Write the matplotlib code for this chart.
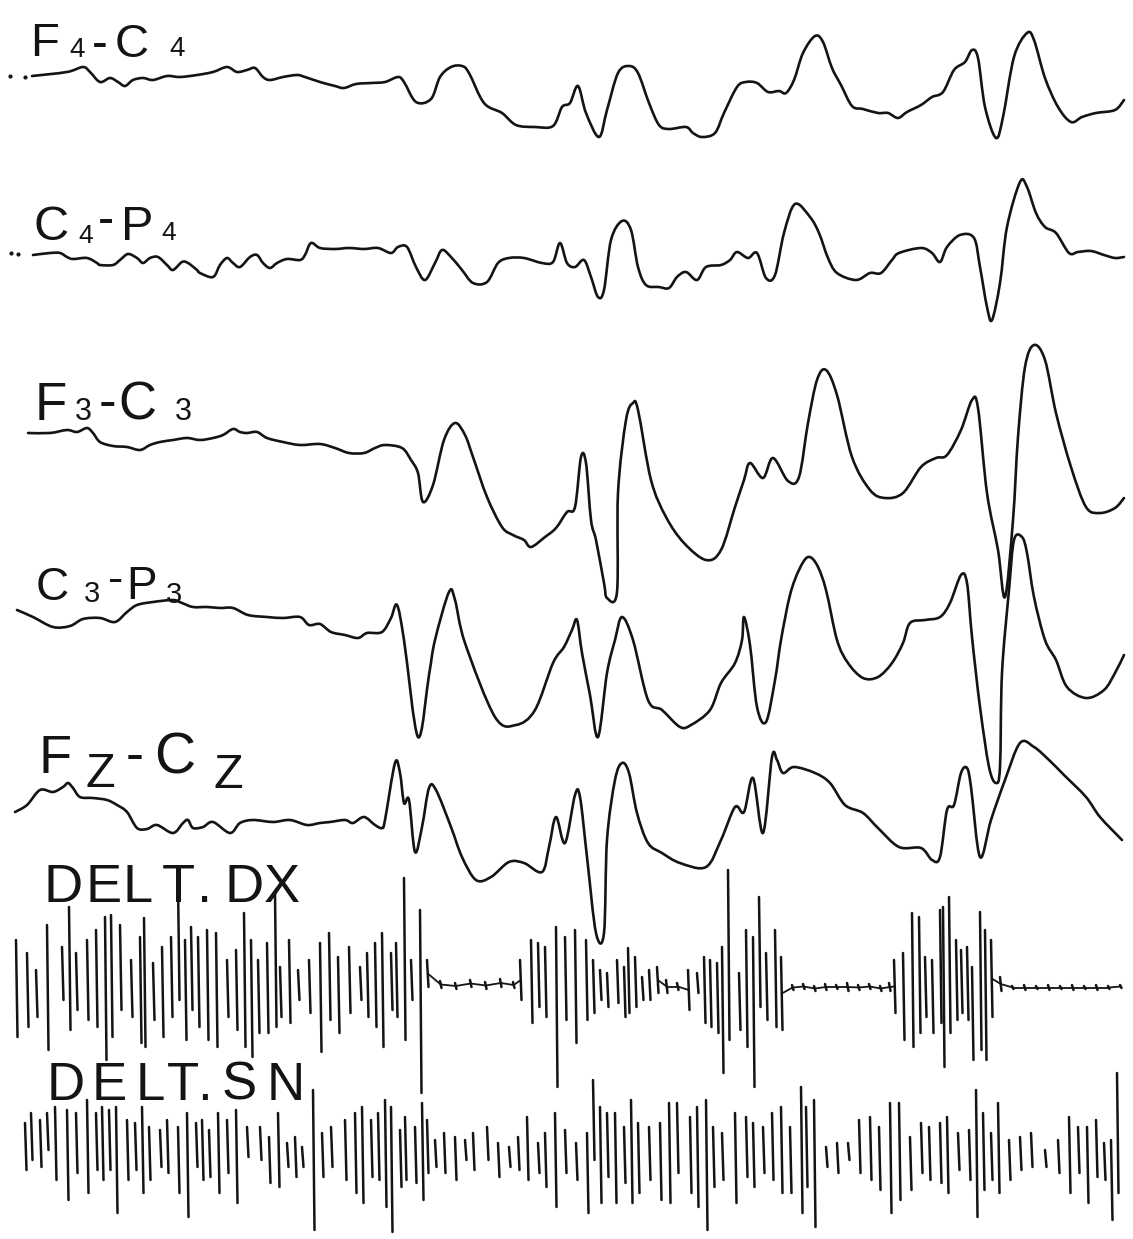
import matplotlib
matplotlib.use("Agg")
import matplotlib.pyplot as plt
import numpy as np
from matplotlib.path import Path
from matplotlib.patches import PathPatch
from matplotlib.collections import LineCollection

# EEG channels: sample position and deflection from the channel baseline
# (negative = upward, EEG convention)
f4c4_t = [32, 67, 83, 90, 100, 110, 118, 125, 133, 143, 153, 167, 180, 197, 213, 227, 237, 247, 255,
          263, 270, 283, 297, 305, 320, 335, 344, 356, 371, 385, 398, 404, 416, 431, 440, 451, 462,
          469, 484, 502, 516, 535, 553, 562, 570, 578, 586, 599, 607, 618, 629, 638, 649, 659, 669,
          686, 693, 702, 715, 724, 737, 746, 757, 768, 779, 786, 794, 803, 815, 823, 832, 841, 852,
          863, 878, 888, 898, 907, 921, 932, 943, 954, 965, 972, 978, 985, 996, 1003, 1014, 1027,
          1034, 1045, 1058, 1071, 1082, 1096, 1115, 1124]
f4c4_v = [1, -3, -8, -3, 7, 3, 7, 11, 5, 3, 5, 1, 2, 0, -3, -8, -3, -5, -7,
          2, 5, 2, 0, 2, 7, 11, 13, 9, 8, 7, 2, 7, 27, 24, 2, -8, -9,
          -2, 28, 38, 50, 52, 51, 32, 28, 11, 38, 62, 35, -2, -9, -2, 28, 50, 54,
          52, 58, 62, 58, 38, 12, 7, 8, 17, 16, 18, 5, -22, -39, -33, -7, 10, 31,
          34, 38, 38, 43, 37, 30, 22, 17, -5, -13, -25, -17, 32, 63, 42, -18, -42,
          -35, 3, 32, 47, 42, 38, 35, 25]

c4p4_t = [33, 50, 60, 67, 73, 87, 97, 100, 113, 120, 128, 137, 143, 150, 158, 167, 173, 182, 188,
          197, 200, 213, 220, 227, 233, 240, 250, 257, 263, 270, 277, 287, 300, 305, 311, 320, 335,
          349, 364, 378, 391, 398, 407, 416, 425, 435, 442, 451, 462, 473, 487, 498, 509, 524, 542,
          553, 560, 567, 575, 584, 591, 598, 604, 611, 622, 631, 638, 646, 659, 669, 677, 686, 697,
          706, 721, 730, 737, 748, 757, 766, 775, 784, 795, 810, 819, 828, 837, 856, 870, 881, 892,
          899, 921, 932, 940, 947, 960, 974, 980, 987, 992, 1000, 1007, 1020, 1027, 1036, 1045,
          1056, 1069, 1078, 1091, 1104, 1115, 1124]
c4p4_v = [0, -2, -2, 2, 4, 3, 8, 10, 10, 5, -1, 3, 8, 3, 2, 10, 15, 7, 8,
          15, 18, 22, 10, 3, 8, 12, 2, 0, 8, 13, 8, 4, 5, 0, -12, -7, -6,
          -7, -6, -7, -2, -8, -8, 12, 25, 8, -5, 2, 15, 28, 27, 8, 3, 3, 8,
          7, -12, 8, 12, 5, 22, 42, 35, -15, -34, -25, 12, 30, 32, 33, 22, 17, 25,
          12, 10, 5, -3, 3, -2, 23, 20, -22, -51, -38, -22, 3, 18, 25, 18, 18, 5,
          -2, -7, -2, 7, -8, -20, -17, 12, 52, 65, 28, -28, -73, -68, -42, -28,
          -22, -2, -3, -4, 0, 3, 2]

f3c3_t = [28, 50, 67, 77, 87, 93, 100, 113, 127, 140, 150, 160, 173, 187, 200, 213, 223, 233, 240,
          247, 257, 267, 283, 300, 320, 335, 349, 364, 375, 385, 402, 411, 418, 423, 433, 444, 455,
          465, 473, 487, 502, 513, 524, 531, 545, 556, 567, 575, 581, 586, 591, 596, 604, 607, 617,
          618, 626, 633, 638, 651, 666, 684, 706, 721, 735, 744, 750, 763, 773, 788, 799, 808, 817,
          826, 837, 852, 870, 885, 903, 921, 936, 947, 961, 972, 978, 987, 998, 1005, 1013, 1018,
          1025, 1034, 1045, 1056, 1071, 1086, 1100, 1115, 1124]
f3c3_v = [-2, -2, -5, -3, -7, -2, 7, 11, 12, 15, 10, 7, 5, 3, 5, 3, 0, -6, -3,
          -2, -3, 3, 7, 10, 9, 13, 18, 18, 13, 10, 13, 25, 38, 67, 50, 5, -12,
          0, 22, 62, 92, 100, 105, 112, 102, 93, 77, 72, 22, 28, 85, 105, 148, 163, 157,
          58, -15, -32, -25, 45, 82, 108, 125, 115, 72, 45, 28, 43, 23, 46, 42, -12, -55,
          -65, -40, 22, 55, 63, 58, 32, 23, 20, -5, -35, -27, 58, 115, 162, 85, 2,
          -68, -90, -75, -22, 32, 72, 78, 73, 63]

c3p3_t = [17, 33, 53, 70, 83, 100, 115, 127, 137, 153, 173, 182, 193, 207, 220, 233, 248, 267, 283,
          300, 309, 320, 331, 345, 358, 367, 382, 391, 397, 404, 418, 429, 435, 449, 455, 465, 495,
          516, 535, 553, 564, 572, 577, 582, 590, 598, 607, 615, 622, 633, 648, 662, 680, 691, 710,
          721, 735, 742, 744, 750, 757, 766, 775, 781, 790, 799, 808, 817, 826, 837, 848, 863, 878,
          892, 903, 910, 925, 940, 950, 961, 967, 972, 980, 989, 996, 1000, 1002, 1009, 1014, 1022,
          1027, 1034, 1045, 1056, 1067, 1086, 1104, 1115, 1124]
c3p3_v = [-5, 2, 12, 11, 4, 3, 7, -3, -10, -13, -15, -12, -8, -8, -7, -7, 0, 2, 3,
          2, 10, 9, 17, 20, 23, 18, 17, 3, -10, 25, 122, 60, 25, -23, -15, 28, 102,
          110, 95, 48, 32, 15, 5, 38, 80, 122, 58, 25, 2, 25, 85, 95, 112, 110, 95,
          68, 48, 25, 2, 30, 92, 107, 65, 25, -20, -45, -58, -50, -25, 25, 48, 63, 62,
          48, 28, 8, 5, 2, -12, -40, -32, 22, 92, 152, 168, 152, 58, -25, -75, -78,
          -62, -18, 25, 45, 72, 83, 75, 58, 40]

fzcz_t = [15, 27, 40, 53, 63, 68, 73, 80, 93, 107, 117, 127, 137, 147, 157, 173, 183, 188, 193,
          203, 213, 230, 240, 253, 273, 290, 307, 320, 330, 345, 353, 364, 375, 382, 385, 395, 400,
          404, 409, 415, 422, 429, 436, 451, 462, 476, 491, 509, 524, 542, 549, 556, 565, 575, 580,
          587, 596, 604, 607, 615, 622, 629, 637, 648, 662, 680, 706, 721, 735, 744, 753, 763, 772,
          777, 783, 794, 815, 830, 845, 863, 878, 899, 921, 932, 940, 947, 954, 961, 967, 971, 980,
          991, 1005, 1020, 1034, 1049, 1064, 1086, 1100, 1122]
fzcz_v = [-8, -15, -30, -28, -33, -37, -32, -23, -22, -20, -15, -8, 8, 9, 5, 13, 3, 0, 8,
          7, 2, 13, 3, 0, 2, 0, 5, 3, 2, 0, 3, -3, 5, 8, 0, -57, -47,
          -17, -20, 32, 7, -32, -30, 7, 37, 60, 57, 42, 43, 52, 27, -3, 23, -25, -23,
          37, 113, 113, 20, -40, -57, -47, -7, 23, 33, 43, 47, 20, -13, -8, -42, 13, -63,
          -60, -47, -53, -47, -37, -15, -7, 8, 27, 28, 40, 37, -10, -15, -47, -52, -33, 37,
          0, -40, -77, -73, -60, -45, -23, -3, 20]

# pen dots before the first two traces start
f4c4_lead_t = [10, 25]
f4c4_lead_v = [1, 2]
c4p4_lead_t = [11, 18]
c4p4_lead_v = [-2, -1]

# EMG: position of each burst stroke with its upper and lower excursion
dx_t = [16, 27, 36, 47, 62, 69, 76, 87, 96, 105, 111, 120, 131, 140, 144, 153, 162, 171, 178, 185,
        191, 198, 207, 216, 227, 236, 244, 251, 258, 267, 275, 280, 289, 298, 309, 320, 329, 338,
        349, 360, 367, 375, 382, 391, 396, 404, 411, 420, 427, 440, 455, 470, 485, 500, 513, 520,
        531, 538, 545, 556, 565, 575, 586, 593, 600, 607, 617, 624, 628, 635, 642, 649, 657, 666,
        677, 688, 697, 704, 710, 717, 722, 728, 739, 746, 753, 759, 766, 775, 781, 792, 803, 814,
        825, 836, 847, 858, 869, 880, 889, 894, 903, 912, 919, 925, 932, 940, 943, 949, 956, 961,
        967, 972, 980, 985, 991, 1000, 1012, 1024, 1036, 1048, 1060, 1072, 1084, 1096, 1108, 1120]
dx_top = [-43, -30, -13, -58, -36, -76, -30, -43, -53, -66, -68, -58, -23, -46, -65, -20, -36, -46, -100, -43,
          -56, -46, -53, -50, -23, -33, -70, -43, -23, -40, -90, -16, -43, -13, -23, -40, -50, -26,
          -36, -16, -30, -40, -50, -30, -40, -105, -23, -73, -23, -2, 0, -3, -1, -4, -1, -23,
          -43, -40, -36, -56, -46, -53, -43, -23, -13, -10, -23, -16, -35, -26, -6, -13, -16, -3,
          0, -13, -10, -26, -23, -20, -36, -113, -10, -53, -46, -86, -30, -53, -26, 2, 1, 3,
          1, 2, 0, 2, 1, 3, 0, -23, -30, -70, -66, -26, -23, -73, -76, -86, -43, -33,
          -36, -16, -71, -53, -43, -6, 3, 2, 3, 2, 3, 2, 3, 2, 3, 2]
dx_bot = [54, 44, 34, 67, 17, 47, 27, 37, 44, 77, 54, 27, 34, 60, 64, 37, 54, 34, 17, 57,
          27, 44, 57, 64, 34, 47, 64, 74, 50, 50, 44, 34, 40, 17, 30, 69, 37, 50,
          30, 17, 34, 44, 64, 27, 34, 57, 17, 110, 4, 5, 6, 4, 6, 4, 5, 17,
          40, 24, 34, 104, 37, 60, 37, 30, 17, 24, 20, 34, 30, 24, 17, 17, 10, 10,
          7, 27, 10, 40, 44, 50, 90, 57, 47, 64, 104, 24, 37, 44, 47, 7, 6, 8,
          7, 6, 8, 7, 6, 8, 8, 30, 57, 64, 50, 34, 50, 40, 84, 50, 37, 30,
          37, 77, 67, 77, 34, 8, 6, 7, 6, 7, 6, 7, 6, 7, 6, 5]

sn_t = [25, 31, 40, 47, 55, 67, 76, 87, 96, 102, 109, 116, 127, 135, 142, 149, 160, 167, 178, 187,
        196, 202, 209, 218, 227, 236, 247, 260, 269, 278, 287, 295, 302, 313, 322, 331, 345, 355,
        362, 371, 378, 385, 391, 400, 405, 415, 422, 427, 435, 444, 455, 465, 473, 487, 498, 509,
        518, 527, 538, 545, 555, 565, 576, 587, 593, 600, 607, 615, 624, 631, 638, 649, 660, 669,
        677, 690, 697, 706, 713, 722, 735, 746, 753, 763, 772, 781, 790, 801, 806, 814, 826, 837,
        848, 859, 870, 879, 890, 899, 910, 921, 929, 940, 947, 958, 969, 976, 983, 991, 998, 1009,
        1020, 1031, 1045, 1058, 1069, 1078, 1087, 1096, 1104, 1111, 1117]
sn_top = [-17, -27, -20, -27, -33, -30, -27, -40, -27, -33, -30, -33, -20, -17, -33, -13, -10, -20, -13, -27,
          -17, -20, -10, -27, -20, -30, -13, -13, -3, -27, 3, -3, 7, -50, -7, -13, -20, -27,
          -33, -20, -27, -40, -33, -10, -23, -13, -37, -20, 0, -7, -3, 0, -7, -13, 3, 7,
          -3, -23, 3, -7, -27, -10, 3, -7, -60, -33, -27, -27, -13, -40, -17, -13, -17, -37,
          -37, -23, -33, -40, -13, -7, -27, -23, -17, -13, -27, -33, -13, -53, -33, -40, 7, 3,
          3, -20, -23, -13, -37, -37, -3, -17, -13, -17, -23, -7, -10, -50, -27, -7, -37, 0,
          -3, -7, 10, 0, -23, -13, -13, -20, 3, 0, -67]
sn_bot = [30, 20, 27, 10, 40, 60, 33, 53, 30, 40, 30, 73, 40, 30, 53, 40, 27, 33, 53, 77,
          27, 40, 37, 53, 33, 63, 17, 20, 43, 47, 27, 37, 27, 90, 37, 27, 40, 53,
          63, 37, 40, 67, 92, 47, 40, 43, 60, 33, 27, 33, 40, 20, 30, 20, 37, 27,
          30, 40, 33, 47, 67, 33, 40, 73, 20, 63, 37, 63, 43, 63, 53, 40, 60, 63,
          33, 53, 67, 90, 47, 40, 63, 37, 47, 33, 40, 53, 53, 73, 47, 87, 27, 33,
          20, 33, 40, 50, 73, 60, 50, 33, 40, 43, 53, 30, 40, 77, 50, 40, 53, 40,
          30, 27, 27, 33, 53, 33, 63, 37, 40, 80, 53]

INK = "#141414"
LABEL_FONT = ["Liberation Sans Narrow", "Liberation Sans", "DejaVu Sans"]

fig = plt.figure(figsize=(11.33, 12.39), dpi=100)
ax = fig.add_axes([0, 0, 1, 1])
ax.set_xlim(0, 1133)
ax.set_ylim(1239, 0)
ax.axis("off")


def pen_path(x, y):
    # Catmull-Rom curve through the samples, like a pen writer trace
    p = np.column_stack([x, y]).astype(float)
    pp = np.vstack([p[0], p, p[-1]])
    verts, codes = [p[0]], [Path.MOVETO]
    for i in range(len(p) - 1):
        p0, p1, p2, p3 = pp[i], pp[i + 1], pp[i + 2], pp[i + 3]
        verts += [p1 + (p2 - p0) / 6.0, p2 - (p3 - p1) / 6.0, p2]
        codes += [Path.CURVE4] * 3
    return Path(verts, codes)


# baseline of each EEG channel on the page
eeg = [
    (f4c4_t, f4c4_v, 75),
    (c4p4_t, c4p4_v, 255),
    (f3c3_t, f3c3_v, 435),
    (c3p3_t, c3p3_v, 615),
    (fzcz_t, fzcz_v, 820),
]
for t, v, base in eeg:
    ax.add_patch(PathPatch(pen_path(t, np.asarray(v) + base), fill=False, ec=INK,
                           lw=1.9, capstyle="round", joinstyle="round"))

for t, v, base in [(f4c4_lead_t, f4c4_lead_v, 75), (c4p4_lead_t, c4p4_lead_v, 255)]:
    ax.plot(t, np.asarray(v) + base, ls="none", marker="o", ms=2.0, color=INK)

# EMG: each burst stroke as a slightly slanted pen line; the slow trace
# between bursts (small excursions) is joined up as a continuous line
QUIET = 15
for t, top, bot, base in [(dx_t, dx_top, dx_bot, 983), (sn_t, sn_top, sn_bot, 1140)]:
    t = np.asarray(t, float)
    top = np.asarray(top, float) + base
    bot = np.asarray(bot, float) + base
    strokes = [[(ti, a), (ti + 1.5, b)] for ti, a, b in zip(t, top, bot)]
    ax.add_collection(LineCollection(strokes, colors=INK, linewidths=1.8, capstyle="round"))

    quiet = (bot - top) < QUIET
    mid = (top + bot) / 2.0
    joins = []
    for i in range(len(t) - 1):
        if quiet[i] or quiet[i + 1]:
            joins.append([(t[i] + 0.75, mid[i]), (t[i + 1] + 0.75, mid[i + 1])])
    ax.add_collection(LineCollection(joins, colors=INK, linewidths=1.3, capstyle="round"))


def put_label(parts, base):
    for ch, xc, size, dy in parts:
        ax.text(xc, base + dy, ch, ha="center", va="baseline", fontsize=size,
                family=LABEL_FONT, color=INK)


put_label([("F", 45, 34, 0), ("4", 77.5, 20, 1), ("-", 100, 34, 2),
           ("C", 132, 34, 1), ("4", 177.5, 20, 0)], 56)
put_label([("C", 51, 35, 0), ("4", 86, 19, 3), ("-", 106, 35, -6),
           ("P", 137, 35, 0), ("4", 169, 19, 0)], 240)
put_label([("F", 51, 38, 0), ("3", 83, 22, 0), ("-", 107, 38, -2),
           ("C", 137, 38, 0), ("3", 183, 22, 0)], 420)
put_label([("C", 52, 33, 0), ("3", 92, 21, 2), ("-", 116, 33, -7),
           ("P", 142, 33, -1), ("3", 174, 21, 3)], 600)
put_label([("F", 55, 39, 0), ("Z", 100, 35, 14), ("-", 135, 39, -2),
           ("C", 175, 41, 1), ("Z", 228, 35, 15)], 773)
put_label([(c, x, 39, 0) for c, x in zip("DELT.DX", [63, 104, 138, 178, 205, 244, 282])], 902)
put_label([(c, x, 38, 0) for c, x in zip("DELT.SN", [66, 109, 150, 183, 205, 239, 286])], 1100)

fig.savefig("out.png", dpi=100, facecolor="white")
